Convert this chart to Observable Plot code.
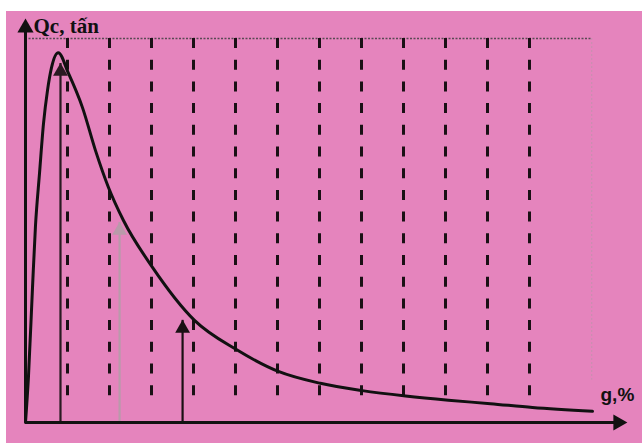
<!DOCTYPE html>
<html>
<head>
<meta charset="utf-8">
<script src="https://cdn.jsdelivr.net/npm/d3@7"></script>
<script src="https://cdn.jsdelivr.net/npm/@observablehq/plot@0.6"></script>
<style>
  html, body { margin: 0; padding: 0; background: #ffffff; }
  #wrap { padding: 11px 0 0 6px; width: 636px; height: 432px; }
  svg { display: block; }
</style>
</head>
<body>
<div id="wrap"></div>
<script>
// Curve Qc vs g
const curveG = [0, 0.071, 0.167, 0.238, 0.333, 0.429, 0.524, 0.619, 0.78, 1.024, 1.357, 1.667, 1.976, 2.333, 3.024, 4.024, 5.02, 6.02, 7.02, 8.02, 9.05, 10.07, 11.07, 12.07, 13.5];
const curveQ = [0, 12.0, 35.2, 51.3, 64.8, 77.9, 86.5, 92.4, 96.3, 90.9, 82.0, 70.8, 61.2, 52.6, 40.4, 26.6, 19.0, 13.3, 10.2, 8.3, 6.9, 5.8, 4.9, 3.9, 2.9];

// Dashed grid verticals
const gridG = [1, 2, 3, 4, 5, 6, 7, 8, 9, 10, 11, 12];
const gridTop = 100;
const gridBottom = 4.4;

// Top dotted boundary
const boundX = [0, 13.48];
const boundY = 100;
const boundRightBottom = 11;

// Vertical indicator arrows
const arrowG = [0.833, 2.24, 3.74];
const arrowTip = [93.5, 52.1, 26.6];
const arrowColor = ["#2a1a22", "#b99aaa", "#1a1014"];

// Axes
const yAxisTop = 105.2;
const xAxisEnd = 14.33;

// Labels
const yLabel = "Qc, tấn";
const xLabel = "g,%";

const curve = curveG.map((g, i) => ({g, q: curveQ[i]}));
const grid = gridG.map(g => ({g}));
const arrows = arrowG.map((g, i) => ({g, tip: arrowTip[i], color: arrowColor[i]}));

const pxPerQ = 3.84;
const pxPerG = 42;

const chart = Plot.plot({
  width: 636,
  height: 432,
  marginTop: 0, marginBottom: 0, marginLeft: 0, marginRight: 0,
  x: {domain: [-19 / pxPerG, 617 / pxPerG], axis: null},
  y: {domain: [-21 / pxPerQ, 411 / pxPerQ], axis: null},
  style: {background: "#e584bd", overflow: "visible"},
  marks: [
    // top dotted boundary
    Plot.ruleY([boundY], {x1: boundX[0], x2: boundX[1], stroke: "#5a4a54", strokeWidth: 1.3, strokeDasharray: "2,1.5"}),
    // right faint dotted boundary
    Plot.ruleX([boundX[1]], {y1: boundY, y2: boundRightBottom, stroke: "#c98fb0", strokeWidth: 1.2, strokeDasharray: "2,2"}),
    // dashed verticals
    Plot.ruleX(grid, {x: "g", y1: () => gridTop, y2: () => gridBottom, stroke: "#1a1015", strokeWidth: 3, strokeDasharray: "10,11.7"}),
    // indicator arrows shafts
    Plot.ruleX(arrows, {x: "g", y1: () => 0, y2: "tip", stroke: "color", strokeWidth: 2.2}),
    // indicator arrow heads
    Plot.dot(arrows, {x: "g", y: d => d.tip - 8 / pxPerQ, symbol: "triangle", r: 5.5, fill: "color", stroke: "none"}),
    // curve
    Plot.line(curve, {x: "g", y: "q", curve: "monotone-x", stroke: "#111", strokeWidth: 3}),
    // axes
    Plot.ruleX([0], {y1: 0, y2: yAxisTop - 8 / pxPerQ, stroke: "#111", strokeWidth: 3}),
    Plot.ruleY([0], {x1: 0, x2: xAxisEnd - 8 / pxPerG, stroke: "#111", strokeWidth: 3}),
    Plot.dot([0], {x: 0, y: yAxisTop - 9.3 / pxPerQ, symbol: "triangle", r: 6, fill: "#111", stroke: "none"}),
    Plot.dot([0], {x: xAxisEnd - 9.3 / pxPerG, y: 0, symbol: "triangle", r: 6, rotate: 90, fill: "#111", stroke: "none"}),
    // labels
    Plot.text([yLabel], {x: 8 / pxPerG, y: 396 / pxPerQ, text: d => d, textAnchor: "start", fontFamily: "Liberation Serif", fontWeight: "bold", fontSize: 21, fill: "#111"}),
    Plot.text([xLabel], {x: 575 / pxPerG, y: 28 / pxPerQ, text: d => d, textAnchor: "start", fontFamily: "Liberation Sans", fontWeight: "bold", fontSize: 19, fill: "#111"})
  ]
});

document.getElementById("wrap").appendChild(chart);
</script>
</body>
</html>
